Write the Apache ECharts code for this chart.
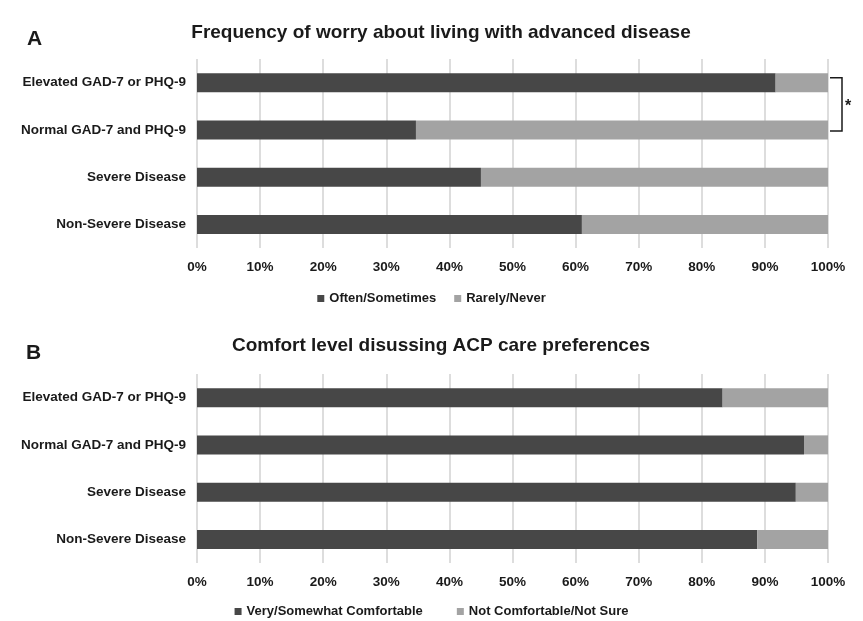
<!DOCTYPE html>
<html>
<head>
<meta charset="utf-8">
<script src="https://cdn.jsdelivr.net/npm/echarts@6/dist/echarts.min.js"></script>
<style>html,body{margin:0;padding:0;background:#fff}#c{width:863px;height:621px}</style>
</head>
<body>
<div id="c"></div>
<script>
var categories = ['Elevated GAD-7 or PHQ-9', 'Normal GAD-7 and PHQ-9', 'Severe Disease', 'Non-Severe Disease'];
var worryOften = [91.7, 34.7, 45.0, 61.0];
var worryRarely = [8.3, 65.3, 55.0, 39.0];
var comfortYes = [83.3, 96.2, 94.9, 88.8];
var comfortNo = [16.7, 3.8, 5.1, 11.2];
var titleA = 'Frequency of worry about living with advanced disease';
var titleB = 'Comfort level disussing ACP care preferences';
var legendA = ['Often/Sometimes', 'Rarely/Never'];
var legendB = ['Very/Somewhat Comfortable', 'Not Comfortable/Not Sure'];

var DARK = '#474747', LIGHT = '#a3a3a3', TXT = '#1a1a1a';
var FONT = 'Liberation Sans, Arial, sans-serif';
var chart = echarts.init(document.getElementById('c'));

function xAx(gi) {
  return {
    type: 'value', gridIndex: gi, min: 0, max: 100, interval: 10,
    axisLine: {show: false}, axisTick: {show: false},
    splitLine: {show: true, lineStyle: {color: '#d2d2d2', width: 1.5}},
    axisLabel: {formatter: '{value}%', color: TXT, fontWeight: 'bold', fontSize: 13.5, fontFamily: FONT, margin: 12}
  };
}
function yAx(gi) {
  return {
    type: 'category', gridIndex: gi, data: categories, inverse: true,
    axisLine: {show: false}, axisTick: {show: false}, splitLine: {show: false},
    axisLabel: {color: TXT, fontWeight: 'bold', fontSize: 13.5, fontFamily: FONT, margin: 11}
  };
}
function bar(name, data, gi, color) {
  return {
    name: name, type: 'bar', stack: 's' + gi, xAxisIndex: gi, yAxisIndex: gi,
    data: data, barWidth: 19, itemStyle: {color: color}, silent: true
  };
}
var titleStyle = {color: TXT, fontWeight: 'bold', fontSize: 19, fontFamily: FONT};
var letterStyle = {color: TXT, fontWeight: 'bold', fontSize: 21, fontFamily: FONT};
var legendText = {color: TXT, fontWeight: 'bold', fontSize: 13, fontFamily: FONT};

chart.setOption({
  animation: false,
  title: [
    {text: 'A', left: 22, top: 24, textStyle: letterStyle},
    {text: titleA, left: 436, textAlign: 'center', top: 18, textStyle: titleStyle},
    {text: 'B', left: 21, top: 338, textStyle: letterStyle},
    {text: titleB, left: 436, textAlign: 'center', top: 331, textStyle: titleStyle}
  ],
  legend: [
    {data: legendA, top: 287, left: 'center', icon: 'rect', itemWidth: 7, itemHeight: 7, itemGap: 18, textStyle: legendText, selectedMode: false},
    {data: legendB, top: 600, left: 'center', icon: 'rect', itemWidth: 7, itemHeight: 7, itemGap: 34, textStyle: legendText, selectedMode: false}
  ],
  grid: [
    {left: 197, right: 35, top: 59, height: 189},
    {left: 197, right: 35, top: 374, height: 189}
  ],
  xAxis: [xAx(0), xAx(1)],
  yAxis: [yAx(0), yAx(1)],
  series: [
    bar(legendA[0], worryOften, 0, DARK),
    bar(legendA[1], worryRarely, 0, LIGHT),
    bar(legendB[0], comfortYes, 1, DARK),
    bar(legendB[1], comfortNo, 1, LIGHT)
  ]
});

var y0 = chart.convertToPixel({yAxisIndex: 0}, categories[0]);
var y1 = chart.convertToPixel({yAxisIndex: 0}, categories[1]);
var xr = chart.convertToPixel({xAxisIndex: 0}, 100);
chart.setOption({
  graphic: [
    {type: 'polyline', shape: {points: [[xr + 2, y0 - 5], [xr + 14, y0 - 5], [xr + 14, y1 + 1], [xr + 2, y1 + 1]]},
     style: {stroke: TXT, lineWidth: 1.5, fill: null}},
    {type: 'text', x: xr + 17, y: (y0 + y1) / 2 - 8,
     style: {text: '*', fill: TXT, font: 'bold 16px ' + FONT}}
  ]
});
</script>
</body>
</html>
